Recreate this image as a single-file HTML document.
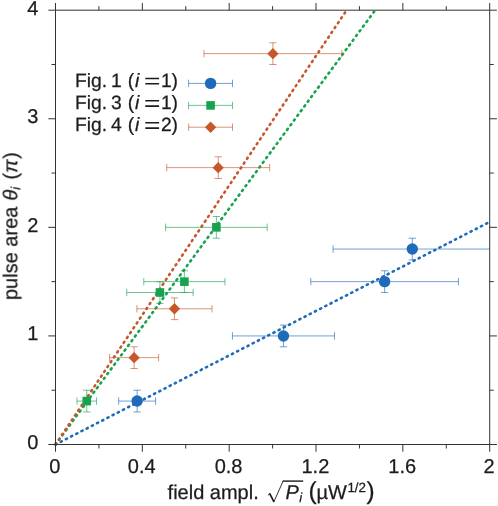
<!DOCTYPE html>
<html><head><meta charset="utf-8"><title>chart</title>
<style>html,body{margin:0;padding:0;background:#fff;}svg{display:block;}</style></head>
<body><svg width="498" height="506" viewBox="0 0 498 506">
<rect x="0" y="0" width="498" height="506" fill="#ffffff"/>
<defs><clipPath id="c"><rect x="55.5" y="10.2" width="434.2" height="434.3"/></clipPath><clipPath id="c2"><rect x="52.5" y="10.7" width="437.2" height="437.3"/></clipPath></defs>
<g clip-path="url(#c2)"><line x1="55.50" y1="444.50" x2="489.70" y2="221.92" stroke="#1d6bb9" stroke-width="2.6" stroke-linecap="round" stroke-dasharray="1.25 4.58" fill="none"/><line x1="55.50" y1="444.50" x2="375.12" y2="10.20" stroke="#16a34f" stroke-width="2.6" stroke-linecap="round" stroke-dasharray="1.25 4.58" fill="none"/><line x1="55.50" y1="444.50" x2="346.62" y2="10.20" stroke="#c5572b" stroke-width="2.6" stroke-linecap="round" stroke-dasharray="1.25 4.58" fill="none"/></g>
<g clip-path="url(#c)"><g stroke="#1d6bb9" stroke-width="0.85" stroke-opacity="0.75" fill="none"><path d="M118.68 401.07H155.58M118.68 397.37V404.77M155.58 397.37V404.77"/><path d="M137.13 411.93V390.21M133.43 411.93H140.83M133.43 390.21H140.83"/></g><g stroke="#1d6bb9" stroke-width="0.85" stroke-opacity="0.75" fill="none"><path d="M232.44 335.93H334.47M232.44 332.23V339.62M334.47 332.23V339.62"/><path d="M283.46 346.78V325.07M279.76 346.78H287.16M279.76 325.07H287.16"/></g><g stroke="#1d6bb9" stroke-width="0.85" stroke-opacity="0.75" fill="none"><path d="M310.81 281.64H458.44M310.81 277.94V285.34M458.44 277.94V285.34"/><path d="M384.62 292.50V270.78M380.92 292.50H388.32M380.92 270.78H388.32"/></g><g stroke="#1d6bb9" stroke-width="0.85" stroke-opacity="0.75" fill="none"><path d="M333.06 249.06H491.55M333.06 245.37V252.76M491.55 245.37V252.76"/><path d="M412.30 259.92V238.21M408.60 259.92H416.00M408.60 238.21H416.00"/></g><circle cx="137.13" cy="401.07" r="5.7" fill="#1d6bb9"/><circle cx="283.46" cy="335.93" r="5.7" fill="#1d6bb9"/><circle cx="384.62" cy="281.64" r="5.7" fill="#1d6bb9"/><circle cx="412.30" cy="249.06" r="5.7" fill="#1d6bb9"/><g stroke="#16a34f" stroke-width="0.85" stroke-opacity="0.75" fill="none"><path d="M76.99 401.07H96.53M76.99 397.37V404.77M96.53 397.37V404.77"/><path d="M86.76 411.93V390.21M83.06 411.93H90.46M83.06 390.21H90.46"/></g><g stroke="#16a34f" stroke-width="0.85" stroke-opacity="0.75" fill="none"><path d="M126.71 292.50H193.14M126.71 288.80V296.19M193.14 288.80V296.19"/><path d="M159.93 303.35V281.64M156.23 303.35H163.63M156.23 281.64H163.63"/></g><g stroke="#16a34f" stroke-width="0.85" stroke-opacity="0.75" fill="none"><path d="M143.79 281.64H224.99M143.79 277.94V285.34M224.99 277.94V285.34"/><path d="M184.39 292.50V270.78M180.69 292.50H188.09M180.69 270.78H188.09"/></g><g stroke="#16a34f" stroke-width="0.85" stroke-opacity="0.75" fill="none"><path d="M165.57 227.35H267.17M165.57 223.65V231.05M267.17 223.65V231.05"/><path d="M216.37 238.21V216.49M212.67 238.21H220.07M212.67 216.49H220.07"/></g><rect x="82.46" y="396.77" width="8.6" height="8.6" fill="#16a34f"/><rect x="155.63" y="288.19" width="8.6" height="8.6" fill="#16a34f"/><rect x="180.09" y="277.34" width="8.6" height="8.6" fill="#16a34f"/><rect x="212.07" y="223.05" width="8.6" height="8.6" fill="#16a34f"/><g stroke="#c5572b" stroke-width="0.85" stroke-opacity="0.75" fill="none"><path d="M109.56 357.64H158.62M109.56 353.94V361.34M158.62 353.94V361.34"/><path d="M134.09 368.50V346.78M130.39 368.50H137.79M130.39 346.78H137.79"/></g><g stroke="#c5572b" stroke-width="0.85" stroke-opacity="0.75" fill="none"><path d="M136.91 308.78H212.03M136.91 305.08V312.48M212.03 305.08V312.48"/><path d="M174.47 319.64V297.92M170.77 319.64H178.17M170.77 297.92H178.17"/></g><g stroke="#c5572b" stroke-width="0.85" stroke-opacity="0.75" fill="none"><path d="M166.76 167.63H269.67M166.76 163.93V171.33M269.67 163.93V171.33"/><path d="M218.22 178.49V156.78M214.52 178.49H221.92M214.52 156.78H221.92"/></g><g stroke="#c5572b" stroke-width="0.85" stroke-opacity="0.75" fill="none"><path d="M204.00 53.63H341.85M204.00 49.93V57.33M341.85 49.93V57.33"/><path d="M272.93 64.49V42.77M269.23 64.49H276.63M269.23 42.77H276.63"/></g><path d="M128.44 357.64L134.09 351.94L139.74 357.64L134.09 363.34Z" fill="#c5572b"/><path d="M168.82 308.78L174.47 303.08L180.12 308.78L174.47 314.48Z" fill="#c5572b"/><path d="M212.57 167.63L218.22 161.93L223.87 167.63L218.22 173.33Z" fill="#c5572b"/><path d="M267.28 53.63L272.93 47.93L278.58 53.63L272.93 59.33Z" fill="#c5572b"/></g>
<rect x="55.5" y="10.2" width="434.2" height="434.3" fill="none"/><path d="M55.5 10.2H489.7V444.5H55.5ZM55.50 444.5v7.2M55.50 10.2v-7.2M98.92 444.5v4.0M98.92 10.2v-4.0M142.34 444.5v7.2M142.34 10.2v-7.2M185.76 444.5v4.0M185.76 10.2v-4.0M229.18 444.5v7.2M229.18 10.2v-7.2M272.60 444.5v4.0M272.60 10.2v-4.0M316.02 444.5v7.2M316.02 10.2v-7.2M359.44 444.5v4.0M359.44 10.2v-4.0M402.86 444.5v7.2M402.86 10.2v-7.2M446.28 444.5v4.0M446.28 10.2v-4.0M489.70 444.5v7.2M489.70 10.2v-7.2M55.5 444.50h-7.2M489.7 444.50h7.2M55.5 390.21h-4.0M489.7 390.21h4.0M55.5 335.93h-7.2M489.7 335.93h7.2M55.5 281.64h-4.0M489.7 281.64h4.0M55.5 227.35h-7.2M489.7 227.35h7.2M55.5 173.06h-4.0M489.7 173.06h4.0M55.5 118.77h-7.2M489.7 118.77h7.2M55.5 64.49h-4.0M489.7 64.49h4.0M55.5 10.20h-7.2M489.7 10.20h7.2" stroke="#333333" stroke-width="1" fill="none"/>
<g font-family="Liberation Sans, sans-serif" font-size="20" fill="#1c1c1c" stroke="#1c1c1c" stroke-width="0.25" text-rendering="geometricPrecision" opacity="0.999"><text x="54.90" y="473.1" text-anchor="middle" font-size="20">0</text><text x="141.74" y="473.1" text-anchor="middle" font-size="20">0.4</text><text x="228.58" y="473.1" text-anchor="middle" font-size="20">0.8</text><text x="315.42" y="473.1" text-anchor="middle" font-size="20">1.2</text><text x="402.26" y="473.1" text-anchor="middle" font-size="20">1.6</text><text x="489.10" y="473.1" text-anchor="middle" font-size="20">2</text><text x="38.4" y="448.90" text-anchor="end" font-size="20">0</text><text x="38.4" y="340.32" text-anchor="end" font-size="20">1</text><text x="38.4" y="231.75" text-anchor="end" font-size="20">2</text><text x="38.4" y="123.17" text-anchor="end" font-size="20">3</text><text x="38.4" y="14.60" text-anchor="end" font-size="20">4</text><g font-size="19.3"><text x="74.9" y="86.8">Fig.</text><text x="110.9" y="86.8">1</text><text x="127.8" y="86.8">(</text><text x="134.9" y="86.8" font-style="italic">i</text><path d="M145.3 78.40H159.1M145.3 83.70H159.1" stroke="#1c1c1c" stroke-width="1.55" fill="none"/><text x="160.9" y="86.8">1</text><text x="171.6" y="86.8">)</text></g><g font-size="19.3"><text x="74.9" y="109.2">Fig.</text><text x="110.9" y="109.2">3</text><text x="127.8" y="109.2">(</text><text x="134.9" y="109.2" font-style="italic">i</text><path d="M145.3 100.80H159.1M145.3 106.10H159.1" stroke="#1c1c1c" stroke-width="1.55" fill="none"/><text x="160.9" y="109.2">1</text><text x="171.6" y="109.2">)</text></g><g font-size="19.3"><text x="74.9" y="131.2">Fig.</text><text x="110.9" y="131.2">4</text><text x="127.8" y="131.2">(</text><text x="134.9" y="131.2" font-style="italic">i</text><path d="M145.3 122.80H159.1M145.3 128.10H159.1" stroke="#1c1c1c" stroke-width="1.55" fill="none"/><text x="160.9" y="131.2">2</text><text x="171.6" y="131.2">)</text></g><text x="167.6" y="498.6">field ampl.</text><text x="285.4" y="498.6" font-style="italic">P</text><text x="299.2" y="501.6" font-style="italic" font-size="13">i</text><text x="308.4" y="499.0" font-size="24.5">(</text><text x="316.6" y="498.6">µW</text><text x="347.4" y="492.2" font-size="13.4">1/2</text><text x="366.6" y="499.0" font-size="24.5">)</text><g transform="translate(17.2,300.1) rotate(-90)"><text x="0" y="0">pulse area</text><text x="99.6" y="0" font-style="italic">θ</text><text x="110.2" y="3" font-style="italic" font-size="13">i</text><text x="120.4" y="0">(</text><text x="127.2" y="0" font-style="italic">π</text><text x="141.2" y="0">)</text></g></g>
<g stroke="#1c1c1c" fill="none" stroke-linejoin="miter" stroke-linecap="butt"><path d="M267.9 495.2L270.1 493.6" stroke-width="0.9"/><path d="M269.6 493.4L274.0 501.9" stroke-width="1.7"/><path d="M273.7 502.2L283.2 480.9" stroke-width="0.9"/><path d="M282.7 481.1H303.2" stroke-width="1.4"/></g>
<path d="M188.6 83.4H232.5M188.6 79.7V87.10000000000001M232.5 79.7V87.10000000000001" stroke="#1d6bb9" stroke-opacity="0.75" stroke-width="0.85" fill="none"/><circle cx="210.60" cy="83.40" r="5.7" fill="#1d6bb9"/><path d="M188.6 105.4H232.5M188.6 101.7V109.10000000000001M232.5 101.7V109.10000000000001" stroke="#16a34f" stroke-opacity="0.75" stroke-width="0.85" fill="none"/><rect x="206.30" y="101.10" width="8.6" height="8.6" fill="#16a34f"/><path d="M188.6 127.2H232.5M188.6 123.5V130.9M232.5 123.5V130.9" stroke="#c5572b" stroke-opacity="0.75" stroke-width="0.85" fill="none"/><path d="M204.95 127.20L210.60 121.50L216.25 127.20L210.60 132.90Z" fill="#c5572b"/>
</svg></body></html>
